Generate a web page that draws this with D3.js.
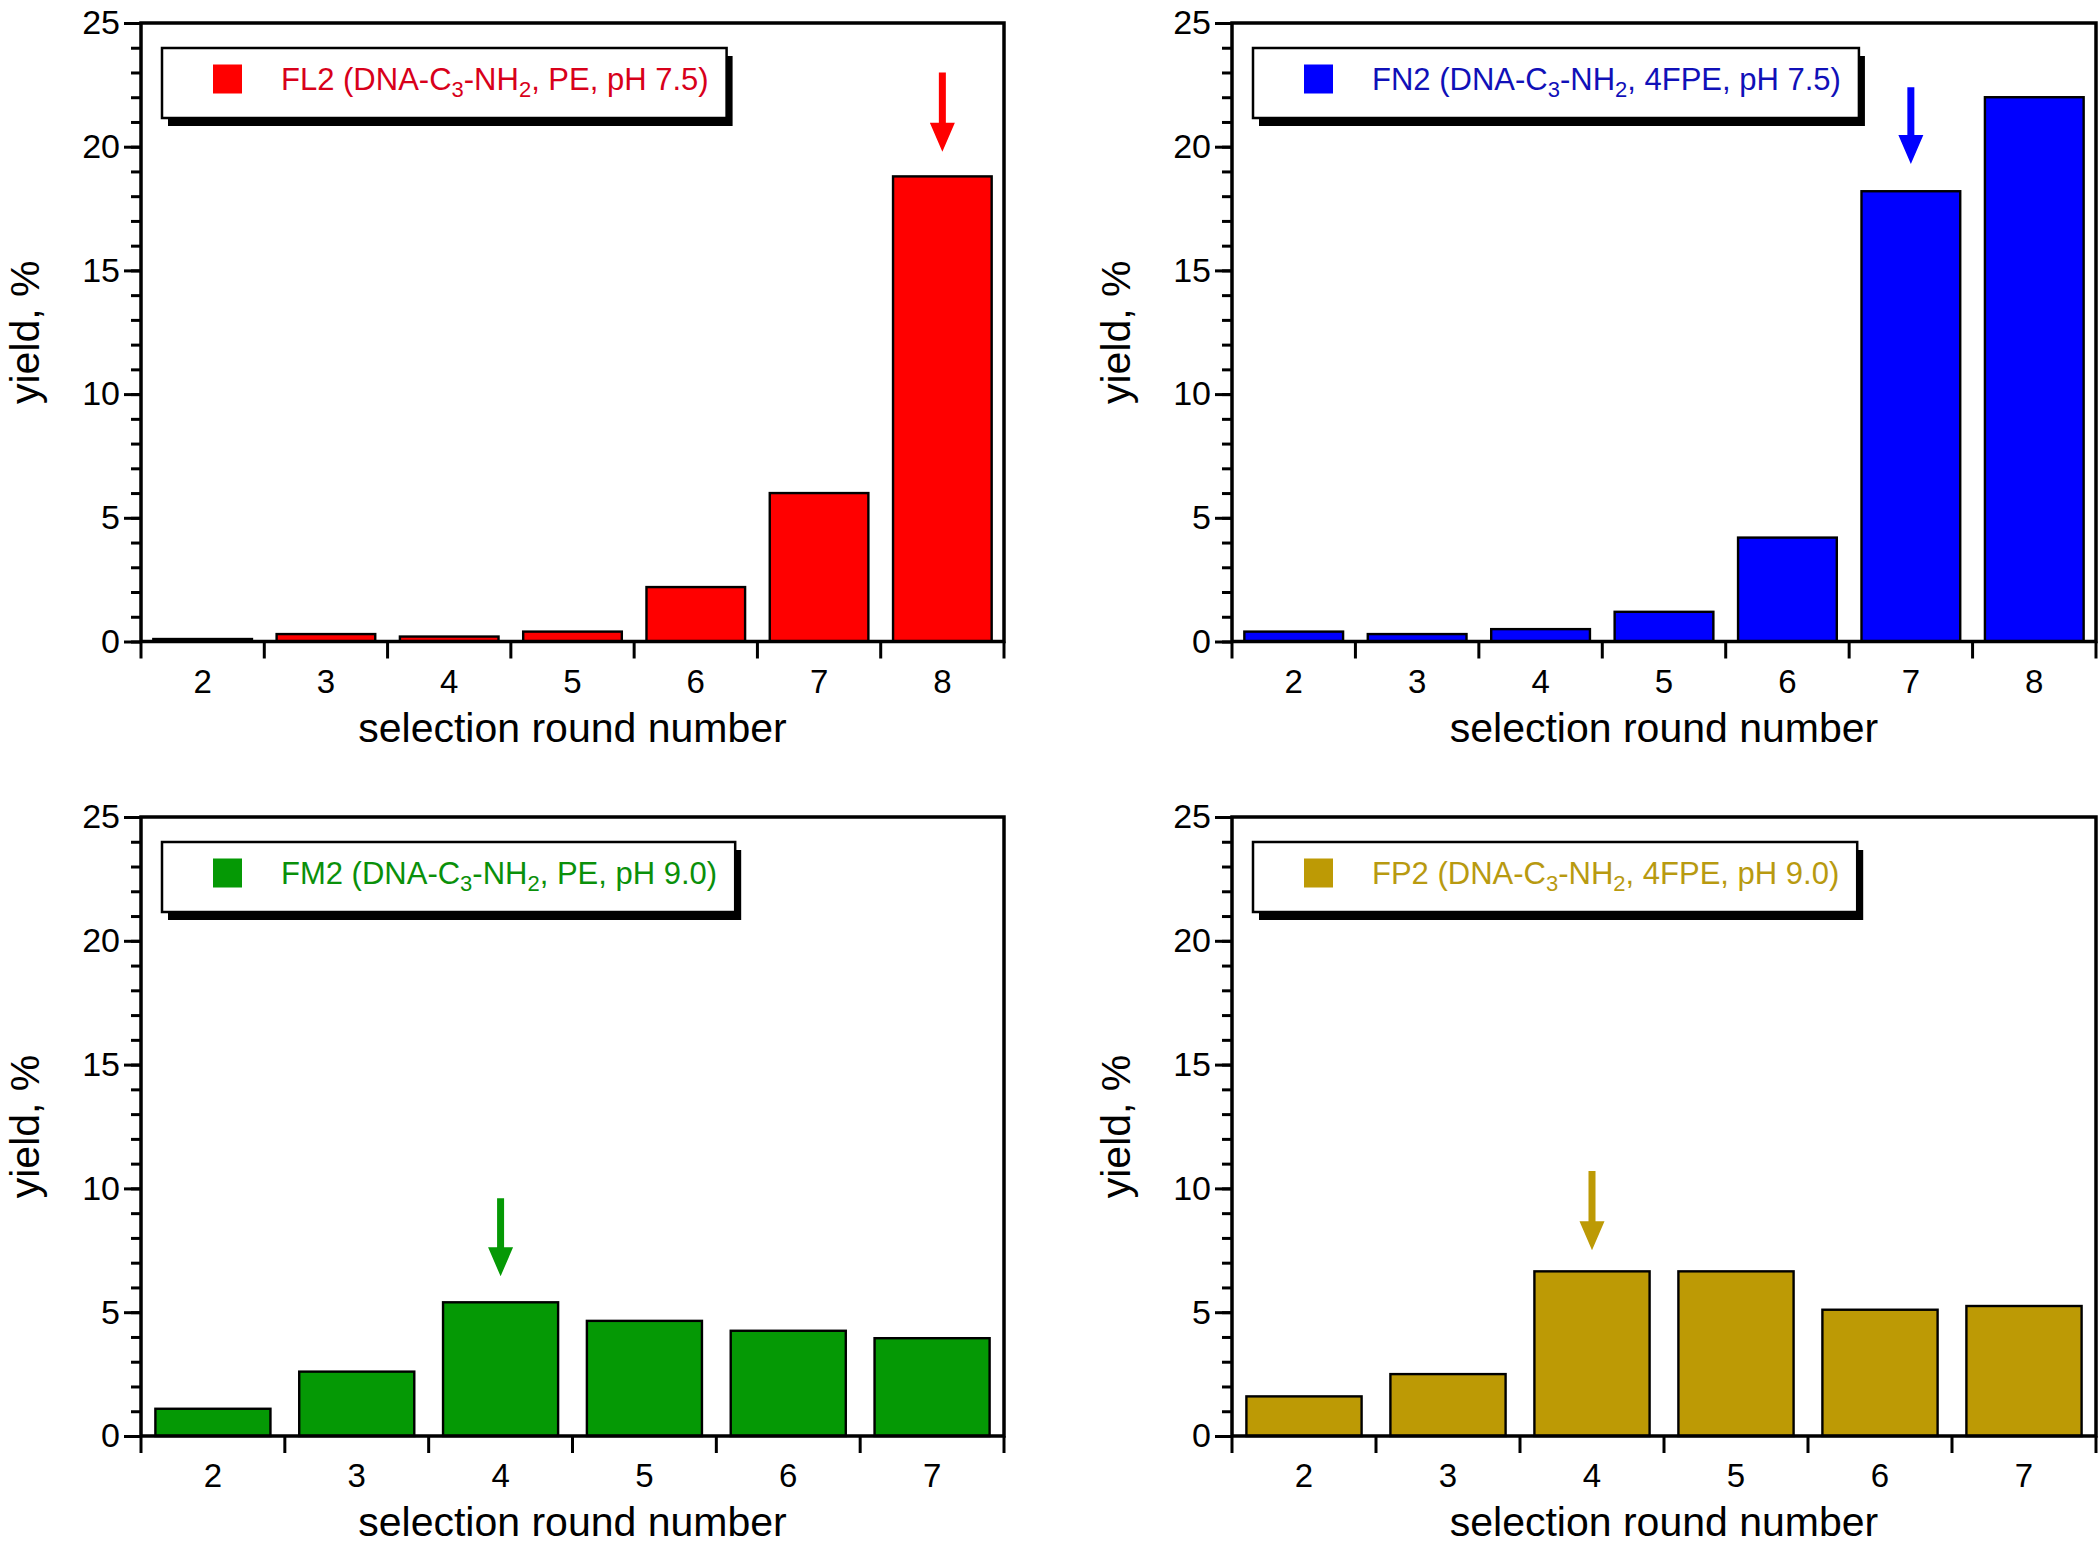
<!DOCTYPE html>
<html>
<head>
<meta charset="utf-8">
<script src="https://cdn.jsdelivr.net/npm/d3@7"></script>
<style>
  html, body { margin: 0; padding: 0; background: #fff; }
  svg { display: block; font-family: "Liberation Sans", Arial, Helvetica, sans-serif; }
</style>
</head>
<body>
<svg id="chart" width="2100" height="1545"></svg>
<script>
// ---------------- DATA ----------------
const roundsTop = ["2", "3", "4", "5", "6", "7", "8"];
const roundsBottom = ["2", "3", "4", "5", "6", "7"];

const fl2Values = [0.1, 0.3, 0.2, 0.4, 2.2, 6.0, 18.8];
const fn2Values = [0.4, 0.3, 0.5, 1.2, 4.2, 18.2, 22.0];
const fm2Values = [1.1, 2.6, 5.4, 4.65, 4.25, 3.95];
const fp2Values = [1.6, 2.5, 6.65, 6.65, 5.1, 5.25];

const yTickValues = [0, 5, 10, 15, 20, 25];
const yDomain = [0, 25];

const legendFL2 = [["FL2 (DNA-C", false], ["3", true], ["-NH", false], ["2", true], [", PE, pH 7.5)", false]];
const legendFN2 = [["FN2 (DNA-C", false], ["3", true], ["-NH", false], ["2", true], [", 4FPE, pH 7.5)", false]];
const legendFM2 = [["FM2 (DNA-C", false], ["3", true], ["-NH", false], ["2", true], [", PE, pH 9.0)", false]];
const legendFP2 = [["FP2 (DNA-C", false], ["3", true], ["-NH", false], ["2", true], [", 4FPE, pH 9.0)", false]];

// arrows: category, tail value, tip value
const arrowFL2 = { round: "8", from: 23.0, to: 19.8 };
const arrowFN2 = { round: "7", from: 22.4, to: 19.3 };
const arrowFM2 = { round: "4", from: 9.6, to: 6.45 };
const arrowFP2 = { round: "4", from: 10.7, to: 7.5 };

const xTitle = "selection round number";
const yTitle = "yield, %";

// ---------------- STYLE / LAYOUT ----------------
const panels = [
  { cats: roundsTop, vals: fl2Values, legend: legendFL2, arrow: arrowFL2, fill: "#ff0000", text: "#d8001a", left: 141, top: 23, right: 1004, bottom: 641.5 },
  { cats: roundsTop, vals: fn2Values, legend: legendFN2, arrow: arrowFN2, fill: "#0000ff", text: "#1010b8", left: 1232, top: 23, right: 2096, bottom: 641.5 },
  { cats: roundsBottom, vals: fm2Values, legend: legendFM2, arrow: arrowFM2, fill: "#059905", text: "#0a900a", left: 141, top: 817, right: 1004, bottom: 1436 },
  { cats: roundsBottom, vals: fp2Values, legend: legendFP2, arrow: arrowFP2, fill: "#bd9a05", text: "#b89a10", left: 1232, top: 817, right: 2096, bottom: 1436 }
];

const svg = d3.select("#chart");
const AXW = 3.5;
const FONT = "Liberation Sans, Arial, sans-serif";

panels.forEach(p => {
  const g = svg.append("g");
  const x = d3.scaleBand().domain(p.cats).range([p.left, p.right]).paddingInner(0.2).paddingOuter(0.1);
  const y = d3.scaleLinear().domain(yDomain).range([p.bottom, p.top]);

  // bars
  g.append("g").selectAll("rect").data(p.cats.map((c, i) => ({ c, v: p.vals[i] }))).join("rect")
    .attr("x", d => x(d.c))
    .attr("y", d => y(d.v))
    .attr("width", x.bandwidth())
    .attr("height", d => y(0) - y(d.v))
    .attr("fill", p.fill)
    .attr("stroke", "#000")
    .attr("stroke-width", 2.4);

  // minor y ticks
  const minor = g.append("g").attr("transform", `translate(${p.left},0)`)
    .call(d3.axisLeft(y).tickValues(d3.range(yDomain[0], yDomain[1] + 1, 1)).tickSize(10).tickFormat(""));
  minor.select(".domain").remove();
  minor.selectAll("line").attr("stroke-width", 3);

  // major y ticks
  const major = g.append("g").attr("transform", `translate(${p.left},0)`)
    .call(d3.axisLeft(y).tickValues(yTickValues).tickSize(17).tickPadding(4));
  major.select(".domain").remove();
  major.selectAll("line").attr("stroke-width", 3);
  major.selectAll("text").attr("font-size", 34).attr("font-family", FONT).attr("fill", "#000");

  // x axis labels at band centres
  const xa = g.append("g").attr("transform", `translate(0,${p.bottom})`)
    .call(d3.axisBottom(x).tickSize(0).tickPadding(28));
  xa.select(".domain").remove();
  xa.selectAll("text").attr("font-size", 33).attr("font-family", FONT).attr("fill", "#000");

  // x boundary ticks
  const boundaries = p.cats.map(c => x(c) - x.step() * 0.1).concat([p.right]);
  g.append("g").selectAll("line").data(boundaries).join("line")
    .attr("x1", d => d).attr("x2", d => d)
    .attr("y1", p.bottom).attr("y2", p.bottom + 17)
    .attr("stroke", "#000").attr("stroke-width", 3);

  // frame
  g.append("rect")
    .attr("x", p.left).attr("y", p.top)
    .attr("width", p.right - p.left).attr("height", p.bottom - p.top)
    .attr("fill", "none").attr("stroke", "#000").attr("stroke-width", AXW);

  // axis titles
  g.append("text")
    .attr("x", (p.left + p.right) / 2).attr("y", p.bottom + 100)
    .attr("text-anchor", "middle").attr("font-size", 41).attr("fill", "#000")
    .text(xTitle);
  g.append("text")
    .attr("transform", `translate(${p.left - 102},${(p.top + p.bottom) / 2}) rotate(-90)`)
    .attr("text-anchor", "middle").attr("font-size", 41).attr("fill", "#000")
    .text(yTitle);

  // arrow
  const ax = x(p.arrow.round) + x.bandwidth() / 2;
  const yTail = y(p.arrow.from), yTip = y(p.arrow.to);
  const headLen = 29, headHalf = 12.5, shaftHalf = 3.5;
  const ap = d3.path();
  ap.moveTo(ax - shaftHalf, yTail);
  ap.lineTo(ax + shaftHalf, yTail);
  ap.lineTo(ax + shaftHalf, yTip - headLen);
  ap.lineTo(ax + headHalf, yTip - headLen);
  ap.lineTo(ax, yTip);
  ap.lineTo(ax - headHalf, yTip - headLen);
  ap.lineTo(ax - shaftHalf, yTip - headLen);
  ap.closePath();
  g.append("path").attr("d", ap.toString()).attr("fill", p.fill);

  // legend
  const lx = p.left + 21, ly = p.top + 25, lh = 70;
  const shadow = g.append("rect");
  const box = g.append("rect");
  const txt = g.append("text")
    .attr("x", lx + 119).attr("y", ly + 42)
    .attr("font-size", 31).attr("fill", p.text);
  p.legend.forEach(([s, sub], i) => {
    const t = txt.append("tspan").text(s);
    const prevSub = i > 0 && p.legend[i - 1][1];
    if (sub) t.attr("font-size", 22).attr("dy", 7);
    else if (prevSub) t.attr("dy", -7);
  });
  const tw = txt.node().getComputedTextLength();
  const lw = 119 + tw + 18;
  shadow.attr("x", lx + 6).attr("y", ly + 8).attr("width", lw).attr("height", lh).attr("fill", "#000");
  box.attr("x", lx).attr("y", ly).attr("width", lw).attr("height", lh)
    .attr("fill", "#fff").attr("stroke", "#000").attr("stroke-width", 2.5);
  g.append("rect")
    .attr("x", lx + 51).attr("y", ly + 31 - 14.5).attr("width", 29).attr("height", 29)
    .attr("fill", p.fill);
});
</script>
</body>
</html>
